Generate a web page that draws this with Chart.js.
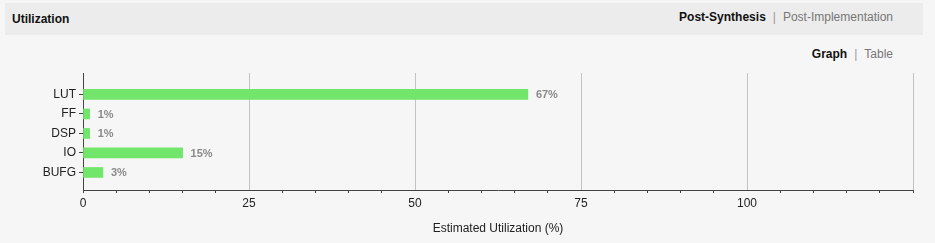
<!DOCTYPE html>
<html>
<head>
<meta charset="utf-8">
<script src="https://cdn.jsdelivr.net/npm/chart.js@4"></script>
<style>
  html, body { margin: 0; padding: 0; background: #f6f6f6; }
  body { width: 935px; height: 243px; position: relative; overflow: hidden; font-family: Arial, 'Liberation Sans', sans-serif; font-size: 12px; }
  #myChart { position: absolute; left: 0; top: 0; }
  .head { position: absolute; left: 5px; top: 3px; width: 918px; height: 32px; background: #ececec; }
  .head .title { position: absolute; left: 7px; top: 9px; font-weight: bold; color: #111; }
  .links { position: absolute; right: 42px; color: #777; white-space: nowrap; }
  .links b { color: #111; }
  .links .sep { color: #999; margin: 0 7px; }
  .l1 { top: 10px; }
  .l2 { top: 47px; }
</style>
</head>
<body>
<div class="head"><span class="title">Utilization</span></div>
<div class="links l1"><b>Post-Synthesis</b><span class="sep">|</span>Post-Implementation</div>
<div class="links l2"><b>Graph</b><span class="sep">|</span>Table</div>
<canvas id="myChart" width="935" height="243"></canvas>
<script>
var categories = ['LUT', 'FF', 'DSP', 'IO', 'BUFG'];
var utilization = [67, 1, 1, 15, 3];
var xTickLabels = [0, 25, 50, 75, 100];

// percent text at end of each bar
var valueLabels = {
    id: 'valueLabels',
    afterDatasetsDraw: function(chart) {
        var c = chart.ctx;
        var meta = chart.getDatasetMeta(0);
        c.save();
        c.font = 'bold 11px Arial, "Liberation Sans", sans-serif';
        c.fillStyle = '#8a8a8a';
        c.textBaseline = 'middle';
        meta.data.forEach(function(bar, i) {
            c.fillText(utilization[i] + '%', bar.x + 8, bar.y + 1);
        });
        c.restore();
    }
};

var ctx = document.getElementById('myChart').getContext('2d');
var MegaChart = new Chart(ctx, {
    type: 'bar',
    data: {
        datasets: [{
            label: 'Utilization',
            backgroundColor: '#72e66b',
            borderWidth: 0,
            barThickness: 10,
            data: utilization.map(function(v, i) { return {x: v, y: i}; })
        }]
    },
    options: {
        indexAxis: 'y',
        responsive: false,
        animation: false,
        layout: {
            padding: {left: 0, right: 22, top: 73, bottom: 0}
        },
        plugins: {
            legend: {display: false},
            tooltip: {enabled: false}
        },
        scales: {
            x: {
                type: 'linear',
                min: 0,
                max: 125,
                afterFit: function(scale) { scale.height = 53; },
                border: {color: '#444'},
                grid: {
                    tickLength: 3,
                    color: function(c) {
                        var v = c.tick.value;
                        return (v % 25 === 0 && v > 0) ? '#c3c3c3' : 'rgba(0,0,0,0)';
                    },
                    tickColor: function(c) {
                        var v = c.tick.value;
                        return (v % 25 === 0 && v > 0 && v < 125) ? 'rgba(0,0,0,0)' : '#444';
                    }
                },
                ticks: {
                    stepSize: 5,
                    autoSkip: false,
                    maxRotation: 0,
                    padding: 3,
                    color: '#222',
                    font: {family: 'Arial, "Liberation Sans", sans-serif', size: 12},
                    callback: function(v) { return xTickLabels.indexOf(v) >= 0 ? String(v) : ''; }
                },
                title: {
                    display: true,
                    text: 'Estimated Utilization (%)',
                    color: '#222',
                    font: {family: 'Arial, "Liberation Sans", sans-serif', size: 12},
                    padding: {top: 4, bottom: 7}
                }
            },
            y: {
                type: 'linear',
                reverse: true,
                offset: false,
                bounds: 'data',
                min: -1.1,
                max: 4.9,
                afterFit: function(scale) { scale.width = 83; },
                afterBuildTicks: function(scale) {
                    scale.ticks = categories.map(function(_, i) { return {value: i}; });
                },
                border: {color: '#444'},
                grid: {
                    offset: false,
                    drawOnChartArea: false,
                    tickLength: 4,
                    tickColor: '#444'
                },
                ticks: {
                    stepSize: 1,
                    padding: 3,
                    color: '#222',
                    font: {family: 'Arial, "Liberation Sans", sans-serif', size: 12},
                    callback: function(v) { return categories[v]; }
                }
            }
        }
    },
    plugins: [valueLabels]
});
</script>
</body>
</html>
